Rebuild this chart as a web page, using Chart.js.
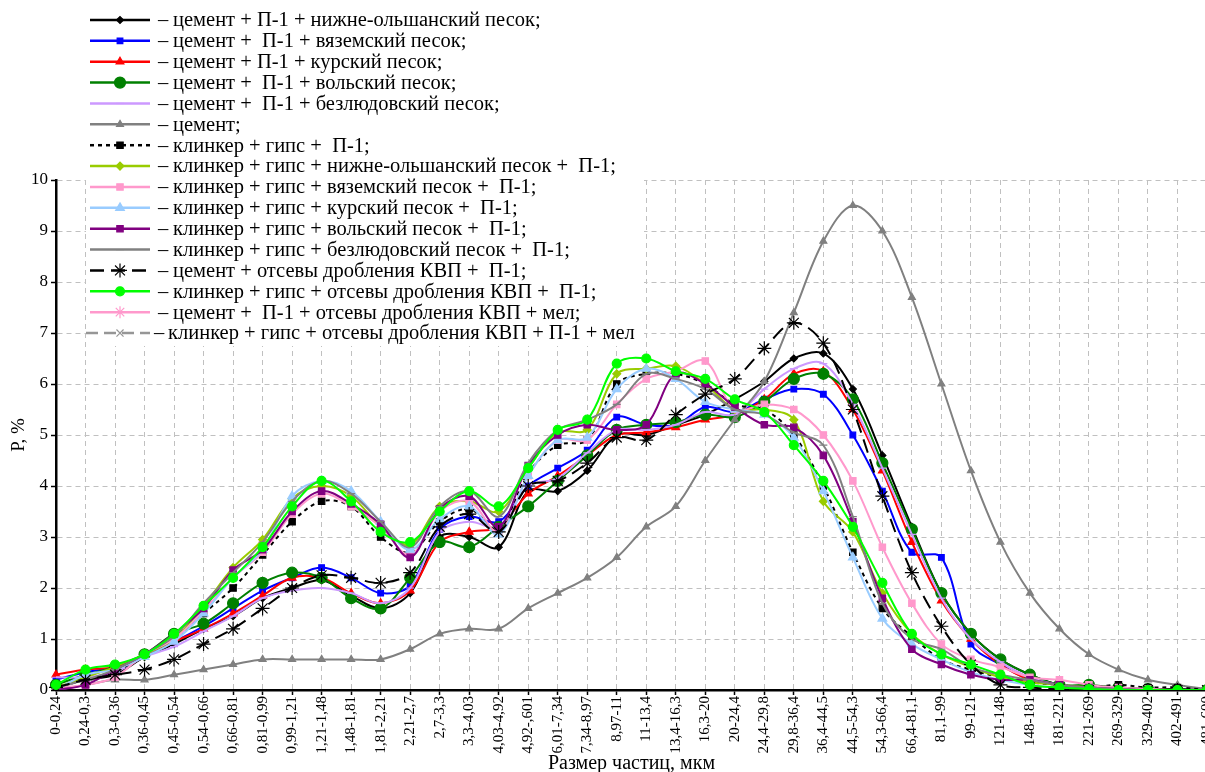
<!DOCTYPE html>
<html>
<head>
<meta charset="utf-8">
<script src="https://cdn.jsdelivr.net/npm/chart.js"></script>
<style>
  body { margin: 0; overflow: hidden; background: #fff; }
</style>
</head>
<body>
<canvas id="mychart" width="1226" height="772"></canvas>
<script>
// size classes, мкм
const categories = ['0-0,24','0,24-0,3','0,3-0,36','0,36-0,45','0,45-0,54','0,54-0,66','0,66-0,81','0,81-0,99',
  '0,99-1,21','1,21-1,48','1,48-1,81','1,81-2,21','2,21-2,7','2,7-3,3','3,3-4,03','4,03-4,92','4,92-,601',
  '6,01-7,34','7,34-8,97','8,97-11','11-13,4','13,4-16,3','16,3-20','20-24,4','24,4-29,8','29,8-36,4',
  '36,4-44,5','44,5-54,3','54,3-66,4','66,4-81,1','81,1-99','99-121','121-148','148-181','181-221',
  '221-269','269-329','329-402','402-491','481-600'];
const yTicks = [0,1,2,3,4,5,6,7,8,9,10];

// P, %
const cemP1Nol   = [0.05,0.2,0.3,0.65,0.9,1.2,1.45,1.8,2.0,2.15,1.85,1.6,1.9,3.0,3.0,2.8,3.9,3.9,4.3,5.0,5.0,5.2,5.4,5.7,6.05,6.5,6.6,5.9,4.6,3.2,1.9,1.1,0.6,0.3,0.1,0.05,0.03,0.02,0.02,0.0];
const cemP1Vyaz  = [0.2,0.35,0.45,0.7,0.95,1.25,1.6,1.95,2.2,2.4,2.2,1.9,2.05,3.15,3.4,3.3,4.0,4.35,4.7,5.35,5.2,5.2,5.55,5.45,5.7,5.9,5.8,5.0,3.9,2.7,2.6,0.9,0.5,0.2,0.1,0.05,0.02,0.0,0.0,0.0];
const cemP1Kursk = [0.3,0.4,0.45,0.7,0.95,1.2,1.5,1.85,2.2,2.2,1.9,1.7,1.95,2.9,3.1,3.2,3.85,4.2,4.6,5.0,5.05,5.15,5.3,5.4,5.7,6.2,6.25,5.5,4.3,2.9,1.75,1.0,0.5,0.2,0.1,0.0,0.0,0.0,0.0,0.0];
const cemP1Volsk = [0.1,0.3,0.45,0.7,1.1,1.3,1.7,2.1,2.3,2.2,1.8,1.6,2.2,2.9,2.8,3.2,3.6,4.1,4.6,5.1,5.2,5.25,5.4,5.35,5.65,6.1,6.2,5.7,4.45,3.15,1.9,1.1,0.6,0.3,0.1,0.1,0.05,0.02,0.0,0.0];
const cemP1Bezl  = [0.25,0.25,0.35,0.65,0.85,1.15,1.45,1.8,1.95,2.0,1.9,1.7,2.0,3.1,3.3,3.2,4.0,4.15,4.65,5.1,5.1,5.2,5.45,5.4,5.9,6.3,6.4,5.6,4.35,3.05,1.8,1.0,0.55,0.25,0.1,0.05,0.02,0.0,0.0,0.0];
const cement     = [0.0,0.1,0.2,0.2,0.3,0.4,0.5,0.6,0.6,0.6,0.6,0.6,0.8,1.1,1.2,1.2,1.6,1.9,2.2,2.6,3.2,3.6,4.5,5.3,6.05,7.4,8.8,9.5,9.0,7.7,6.0,4.3,2.9,1.9,1.2,0.7,0.4,0.2,0.1,0.02];
const klGipsP1   = [0.05,0.2,0.35,0.7,1.0,1.5,2.0,2.65,3.3,3.7,3.6,3.0,2.7,3.3,3.55,3.15,4.25,4.8,4.9,6.0,6.2,6.2,6.0,5.6,5.5,5.0,4.0,2.7,1.6,1.05,0.6,0.4,0.25,0.15,0.1,0.05,0.1,0.05,0.05,0.0];
const klNol      = [0.05,0.25,0.45,0.7,1.0,1.65,2.4,2.95,3.75,4.0,3.8,3.2,2.85,3.6,3.7,3.5,4.35,5.05,5.1,6.2,6.3,6.35,6.0,5.5,5.5,5.3,3.7,3.1,1.9,1.1,0.7,0.45,0.25,0.15,0.1,0.05,0.02,0.0,0.0,0.0];
const klVyaz     = [0.05,0.1,0.25,0.7,1.0,1.55,2.2,2.7,3.45,3.85,3.6,3.2,2.65,3.5,3.7,3.1,4.2,4.9,4.9,5.6,6.1,6.25,6.45,5.5,5.6,5.5,5.0,4.1,2.8,1.7,0.9,0.6,0.45,0.25,0.2,0.1,0.05,0.02,0.0,0.0];
const klKursk    = [0.0,0.3,0.4,0.65,0.95,1.5,2.2,2.75,3.8,4.1,3.9,3.3,2.75,3.35,3.6,3.05,4.2,4.9,4.95,5.9,6.3,6.1,5.65,5.5,5.4,4.95,3.9,2.6,1.4,0.9,0.6,0.35,0.2,0.1,0.05,0.02,0.0,0.0,0.0,0.0];
const klVolsk    = [0.0,0.1,0.4,0.7,1.1,1.6,2.35,2.75,3.5,3.9,3.65,3.25,2.6,3.55,3.8,3.2,4.4,5.0,5.2,5.1,5.2,6.2,6.0,5.55,5.2,5.15,4.6,3.3,1.8,0.8,0.5,0.3,0.2,0.2,0.1,0.05,0.02,0.0,0.0,0.0];
const klBezl     = [0.05,0.2,0.4,0.7,1.05,1.7,2.3,2.9,3.7,4.1,3.85,3.3,2.8,3.6,3.9,3.4,4.45,5.1,5.3,5.6,6.2,6.1,5.9,5.5,5.4,5.05,4.8,3.4,1.7,1.0,0.8,0.45,0.3,0.2,0.1,0.05,0.02,0.0,0.0,0.0];
const cemOtsP1   = [0.05,0.2,0.3,0.4,0.6,0.9,1.2,1.6,2.0,2.25,2.2,2.1,2.3,3.2,3.45,3.1,4.0,4.1,4.45,4.95,4.9,5.4,5.8,6.1,6.7,7.2,6.8,5.5,3.8,2.3,1.25,0.5,0.1,0.05,0.02,0.0,0.0,0.0,0.0,0.0];
const klOtsP1    = [0.1,0.4,0.5,0.7,1.1,1.65,2.2,2.8,3.6,4.1,3.7,3.1,2.9,3.5,3.9,3.6,4.35,5.1,5.3,6.4,6.5,6.25,6.1,5.7,5.45,4.8,4.1,3.2,2.1,1.1,0.7,0.5,0.3,0.1,0.05,0.02,0.0,0.0,0.0,0.0];
const cemP1OtsMel = [];
const klOtsP1Mel  = [];

const seriesNames = [
  'цемент + П-1 + нижне-ольшанский песок;',
  'цемент +  П-1 + вяземский песок;',
  'цемент + П-1 + курский песок;',
  'цемент +  П-1 + вольский песок;',
  'цемент +  П-1 + безлюдовский песок;',
  'цемент;',
  'клинкер + гипс +  П-1;',
  'клинкер + гипс + нижне-ольшанский песок +  П-1;',
  'клинкер + гипс + вяземский песок +  П-1;',
  'клинкер + гипс + курский песок +  П-1;',
  'клинкер + гипс + вольский песок +  П-1;',
  'клинкер + гипс + безлюдовский песок +  П-1;',
  'цемент + отсевы дробления КВП +  П-1;',
  'клинкер + гипс + отсевы дробления КВП +  П-1;',
  'цемент +  П-1 + отсевы дробления КВП + мел;',
  'клинкер + гипс + отсевы дробления КВП + П-1 + мел'
];
const seriesData = [cemP1Nol, cemP1Vyaz, cemP1Kursk, cemP1Volsk, cemP1Bezl, cement, klGipsP1, klNol,
  klVyaz, klKursk, klVolsk, klBezl, cemOtsP1, klOtsP1, cemP1OtsMel, klOtsP1Mel];

// color, marker, radius, dash
const looks = [
  ['#000000','rectRot',3.5,[]],
  ['#0000FF','rect',4,[]],
  ['#FF0000','triangle',4.5,[]],
  ['#008000','circle',5.5,[]],
  ['#CC99FF','line',4,[]],
  ['#808080','triangle',4,[]],
  ['#000000','rect',4.5,[4,4]],
  ['#99CC00','rectRot',4,[]],
  ['#FF99CC','rect',4.5,[]],
  ['#99CCFF','triangle',5,[]],
  ['#800080','rect',4.5,[]],
  ['#808080','line',4,[]],
  ['#000000','star',7,[14,7]],
  ['#00FF00','circle',4.5,[]],
  ['#FF99CC','star',6,[]],
  ['#969696','crossRot',5,[12,6]]
];

const datasets = seriesData.map(function(d, i){
  const lk = looks[i];
  return {
    label: seriesNames[i],
    data: d,
    borderColor: lk[0],
    backgroundColor: lk[0],
    pointBackgroundColor: lk[0],
    pointBorderColor: lk[0],
    pointStyle: lk[1],
    pointRadius: lk[2],
    pointBorderWidth: 1.2,
    borderWidth: 2,
    borderDash: lk[3],
    tension: 0.35,
    fill: false,
    order: 20 - i
  };
});

const serif = '"Liberation Serif", "Times New Roman", serif';

const legendBox = {
  id: 'legendBox',
  beforeDatasetsDraw(chart) {
    const ctx = chart.ctx;
    ctx.save();
    ctx.fillStyle = '#fff';
    ctx.fillRect(86, 4, 558, 342);
    chart.data.datasets.forEach(function(ds, i){
      const y = 20 + i * 20.87;
      const last = i === chart.data.datasets.length - 1;
      ctx.strokeStyle = ds.borderColor;
      ctx.lineWidth = 2.5;
      ctx.setLineDash(ds.borderDash);
      ctx.beginPath();
      ctx.moveTo(last ? 86 : 90, y);
      ctx.lineTo(150, y);
      ctx.stroke();
      ctx.setLineDash([]);
      ctx.fillStyle = ds.borderColor;
      ctx.lineWidth = 1.2;
      Chart.helpers.drawPoint(ctx, {pointStyle: ds.pointStyle, radius: ds.pointRadius, borderWidth: 1.2, rotation: 0}, 120, y);
      ctx.fillStyle = '#000';
      ctx.font = '20.5px ' + serif;
      ctx.textBaseline = 'middle';
      ctx.fillText('–', last ? 154 : 158, y + 1);
      ctx.fillText(ds.label, last ? 168 : 173, y + 1);
    });
    ctx.restore();
  }
};

var ctx = document.getElementById('mychart').getContext('2d');
var myChart = new Chart(ctx, {
  type: 'line',
  data: { labels: categories, datasets: datasets },
  plugins: [legendBox],
  options: {
    responsive: false,
    animation: false,
    layout: { padding: { top: 180, left: 0, right: 0, bottom: 0 } },
    plugins: { legend: { display: false }, tooltip: { enabled: false } },
    scales: {
      x: {
        type: 'category',
        offset: false,
        afterFit: function(s){ s.height = 82; },
        grid: { color: '#c0c0c0', lineWidth: 1, tickLength: 5, tickColor: '#000', tickWidth: 1.5, tickBorderDash: [] },
        border: { display: true, color: '#000', width: 2.5, dash: [5, 4] },
        ticks: { autoSkip: false, minRotation: 90, maxRotation: 90, color: '#000', padding: 1, font: { family: serif, size: 15 } },
        title: { display: true, text: 'Размер частиц, мкм', color: '#000', font: { family: serif, size: 20 }, padding: { top: 0, bottom: -4 } }
      },
      y: {
        min: 0,
        max: 10,
        afterFit: function(s){ s.width = 56; },
        afterBuildTicks: function(s){ s.ticks = yTicks.map(function(v){ return { value: v }; }); },
        grid: { color: '#c0c0c0', lineWidth: 1, tickLength: 5, tickColor: '#000', tickWidth: 1.5, tickBorderDash: [] },
        border: { display: true, color: '#000', width: 2.5, dash: [5, 4] },
        ticks: { color: '#000', padding: 3, font: { family: serif, size: 17 } },
        title: { display: true, text: 'Р, %', color: '#000', font: { family: serif, size: 19 }, padding: { top: 8, bottom: 0 } }
      }
    }
  }
});
</script>
</body>
</html>
